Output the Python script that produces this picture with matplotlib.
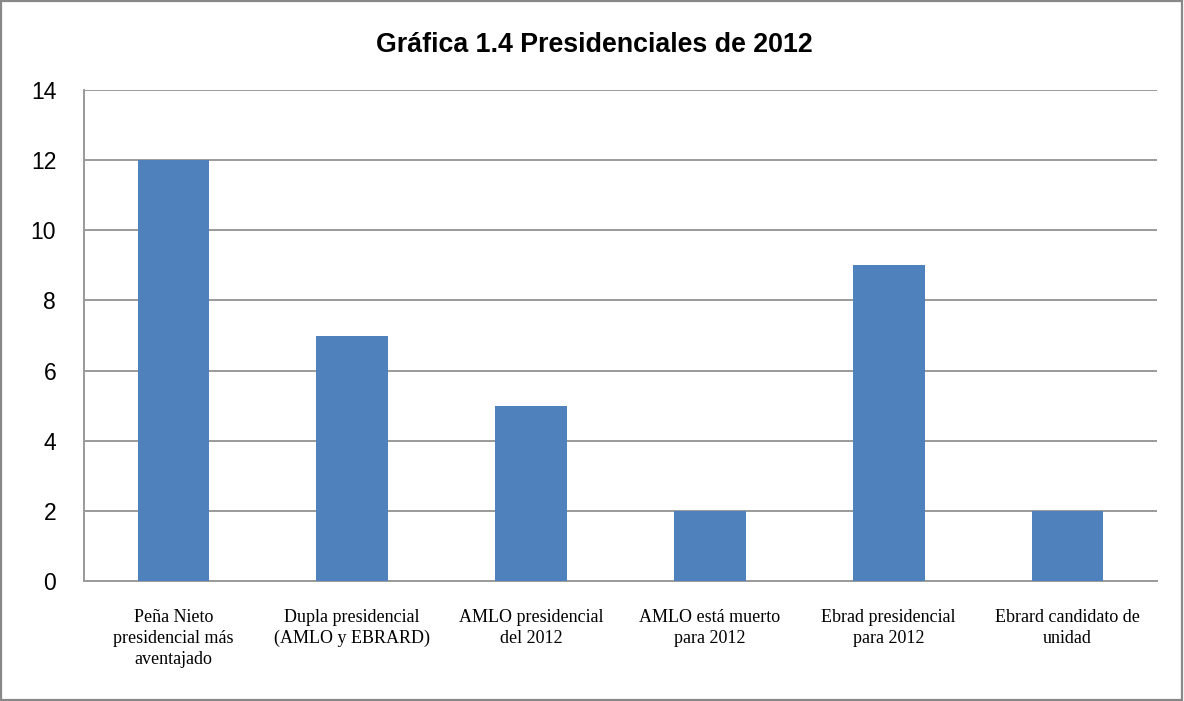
import matplotlib
matplotlib.use("Agg")
import matplotlib.pyplot as plt
from matplotlib.patches import Rectangle

categories = [
    "Peña Nieto\npresidencial más\naventajado",
    "Dupla presidencial\n(AMLO y EBRARD)",
    "AMLO presidencial\ndel 2012",
    "AMLO está muerto\npara 2012",
    "Ebrad presidencial\npara 2012",
    "Ebrard candidato de\nunidad",
]
values = [12, 7, 5, 2, 9, 2]
yticks = [0, 2, 4, 6, 8, 10, 12, 14]
title = "Gráfica 1.4 Presidenciales de 2012"

W, H = 1184, 701
fig = plt.figure(figsize=(W / 100, H / 100), dpi=100)
fig.patch.set_facecolor("white")
fig.add_artist(Rectangle((0.001, 0.002), 0.997, 0.996, transform=fig.transFigure,
                         fill=False, edgecolor="#888888", linewidth=1.6))

left, right, top, bottom = 84, 1157, 90, 581
ax = fig.add_axes([left / W, 1 - bottom / H, (right - left) / W, (bottom - top) / H])

x = list(range(len(categories)))
ax.bar(x, values, width=0.4, color="#4F81BD", zorder=3)
ax.set_xlim(-0.5, len(categories) - 0.5)
ax.set_ylim(0, 14)
ax.set_yticks(yticks)
ax.set_yticklabels([str(v) for v in yticks], fontsize=16.5, family="Liberation Sans")
ax.set_xticks(x)
ax.set_xticklabels(categories, fontsize=13, family="Liberation Serif", linespacing=1.3)
ax.tick_params(axis="both", length=0)
ax.tick_params(axis="y", pad=20)
ax.tick_params(axis="x", pad=20)
ax.yaxis.grid(True, color="#9a9a9a", linewidth=1.4, zorder=0)
ax.set_axisbelow(True)
for s in ["top", "right"]:
    ax.spines[s].set_visible(False)
for s in ["left", "bottom"]:
    ax.spines[s].set_color("#9a9a9a")
    ax.spines[s].set_linewidth(1.4)

fig.text(594 / W, 1 - 45 / H, title, ha="center", va="center", fontsize=19.3,
         fontweight="bold", family="Liberation Sans")

fig.savefig("out.png", dpi=100)
